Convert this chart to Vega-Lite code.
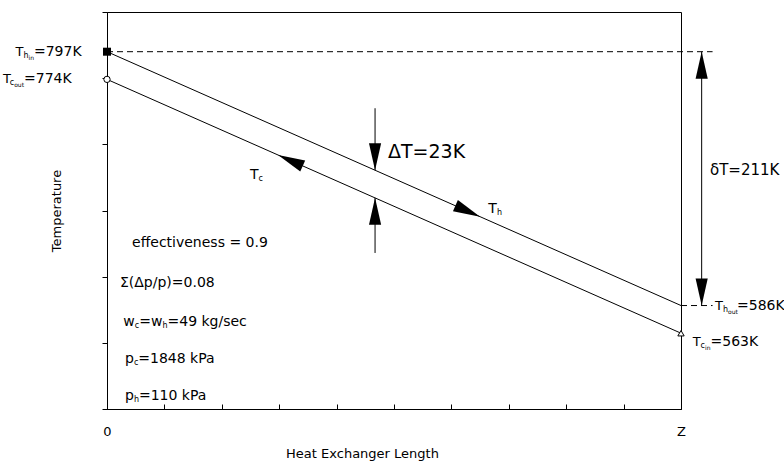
{
  "$schema": "https://vega.github.io/schema/vega-lite/v6.json",
  "width": 574,
  "height": 397,
  "autosize": {"type": "none"},
  "padding": {"left": 107, "top": 12, "right": 103, "bottom": 52},
  "background": "white",
  "config": {
    "view": {"stroke": "#000", "strokeWidth": 1},
    "font": "DejaVu Sans",
    "axis": {"domainColor": "#000", "tickColor": "#000", "labelColor": "#000", "titleColor": "#000", "grid": false, "labelFont": "DejaVu Sans", "titleFont": "DejaVu Sans", "titleFontWeight": "normal"}
  },
  "datasets": {
    "lines": [
      {"s": "h", "x": 0, "T": 797}, {"s": "h", "x": 1, "T": 586},
      {"s": "c", "x": 0, "T": 774}, {"s": "c", "x": 1, "T": 563}
    ],
    "dashes": [
      {"x": 0, "x2": 1.055, "T": 797},
      {"x": 1, "x2": 1.055, "T": 586}
    ],
    "vrules": [
      {"x": 0.467, "T": 750, "T2": 698.5},
      {"x": 0.467, "T": 675.5, "T2": 629.7},
      {"x": 1.036, "T": 797, "T2": 586}
    ],
    "downArrows": [
      {"x": 0.467, "T": 698.5},
      {"x": 1.036, "T": 586}
    ],
    "upArrows": [
      {"x": 0.467, "T": 675.5},
      {"x": 1.036, "T": 797}
    ],
    "hotArrow": [{"x": 0.65, "T": 659.9}],
    "coldArrow": [{"x": 0.298, "T": 711.1}],
    "squares": [{"x": 0, "T": 797}],
    "circles": [{"x": 0, "T": 774}],
    "triangles": [{"x": 1, "T": 563}],
    "endT": [
      {"x": -0.1594, "T": 797, "t": "T"},
      {"x": -0.181, "T": 774, "t": "T"},
      {"x": 1.0592, "T": 586, "t": "T"},
      {"x": 1.0204, "T": 555.7, "t": "T"}
    ],
    "txt": [
      {"x": -0.1272, "T": 797, "t": "=797K"},
      {"x": -0.1446, "T": 774, "t": "=774K"},
      {"x": 1.0976, "T": 586, "t": "=586K"},
      {"x": 1.0514, "T": 555.7, "t": "=563K"},
      {"x": 0.2491, "T": 694.5, "t": "T"},
      {"x": 0.6643, "T": 666.3, "t": "T"},
      {"x": 0.0436, "T": 638.0, "t": "effectiveness = 0.9"},
      {"x": 0.0226, "T": 604.7, "t": "Σ(Δp/p)=0.08"},
      {"x": 0.0284, "T": 572.3, "t": "w"},
      {"x": 0.0561, "T": 572.3, "t": "=w"},
      {"x": 0.1054, "T": 572.3, "t": "=49 kg/sec"},
      {"x": 0.0314, "T": 541.6, "t": "p"},
      {"x": 0.0545, "T": 541.6, "t": "=1848 kPa"},
      {"x": 0.0314, "T": 510.8, "t": "p"},
      {"x": 0.0557, "T": 510.8, "t": "=110 kPa"}
    ],
    "sub": [
      {"x": -0.1456, "T": 797, "t": "h"},
      {"x": -0.1693, "T": 774, "t": "c"},
      {"x": 1.073, "T": 586, "t": "h"},
      {"x": 1.0341, "T": 555.7, "t": "c"},
      {"x": 0.2641, "T": 694.5, "t": "c"},
      {"x": 0.6793, "T": 666.3, "t": "h"},
      {"x": 0.0484, "T": 572.3, "t": "c"},
      {"x": 0.0965, "T": 572.3, "t": "h"},
      {"x": 0.0469, "T": 541.6, "t": "c"},
      {"x": 0.0469, "T": 510.8, "t": "h"}
    ],
    "subsub": [
      {"x": -0.1368, "T": 797, "t": "in"},
      {"x": -0.1617, "T": 774, "t": "out"},
      {"x": 1.0819, "T": 586, "t": "out"},
      {"x": 1.0418, "T": 555.7, "t": "in"}
    ],
    "big": [{"x": 0.4895, "T": 714, "t": "ΔT=23K"}],
    "mid": [{"x": 1.0505, "T": 698.7, "t": "δT=211K"}]
  },
  "layer": [
    {
      "data": {"name": "lines"},
      "mark": {"type": "line", "color": "#000", "strokeWidth": 1},
      "encoding": {
        "x": {"field": "x", "type": "quantitative", "scale": {"domain": [0, 1], "nice": false, "zero": false},
          "axis": {"values": [0, 0.1, 0.2, 0.3, 0.4, 0.5, 0.6, 0.7, 0.8, 0.9, 1], "labelExpr": "datum.value==0?'0':(datum.value==1?'Z':'')", "title": "Heat Exchanger Length", "tickSize": -5, "labelPadding": 21, "labelFontSize": 13, "titleFontSize": 13, "titlePadding": 9, "titleX": 255, "labelFlush": false}},
        "y": {"field": "T", "type": "quantitative", "scale": {"domain": [500, 830], "nice": false, "zero": false},
          "axis": {"values": [500, 555, 610, 665, 720, 775, 830], "labels": false, "title": "Temperature", "tickSize": 5, "titleFontSize": 13, "titlePadding": 38}},
        "detail": {"field": "s"}
      }
    },
    {
      "data": {"name": "dashes"},
      "mark": {"type": "rule", "color": "#000", "strokeWidth": 1, "strokeDash": [6, 4]},
      "encoding": {"x": {"field": "x", "type": "quantitative"}, "x2": {"field": "x2"}, "y": {"field": "T", "type": "quantitative"}}
    },
    {
      "data": {"name": "vrules"},
      "mark": {"type": "rule", "color": "#000", "strokeWidth": 1},
      "encoding": {"x": {"field": "x", "type": "quantitative"}, "y": {"field": "T", "type": "quantitative"}, "y2": {"field": "T2"}}
    },
    {
      "data": {"name": "downArrows"},
      "mark": {"type": "point", "shape": "M0,0L-0.45,-2L0.45,-2Z", "filled": true, "color": "#000", "opacity": 1, "size": 729},
      "encoding": {"x": {"field": "x", "type": "quantitative"}, "y": {"field": "T", "type": "quantitative"}}
    },
    {
      "data": {"name": "upArrows"},
      "mark": {"type": "point", "shape": "M0,0L-0.45,2L0.45,2Z", "filled": true, "color": "#000", "opacity": 1, "size": 729},
      "encoding": {"x": {"field": "x", "type": "quantitative"}, "y": {"field": "T", "type": "quantitative"}}
    },
    {
      "data": {"name": "hotArrow"},
      "mark": {"type": "point", "shape": "M0,0L-2,-0.45L-2,0.45Z", "filled": true, "color": "#000", "opacity": 1, "size": 729, "angle": 24},
      "encoding": {"x": {"field": "x", "type": "quantitative"}, "y": {"field": "T", "type": "quantitative"}}
    },
    {
      "data": {"name": "coldArrow"},
      "mark": {"type": "point", "shape": "M0,0L2,-0.45L2,0.45Z", "filled": true, "color": "#000", "opacity": 1, "size": 729, "angle": 24},
      "encoding": {"x": {"field": "x", "type": "quantitative"}, "y": {"field": "T", "type": "quantitative"}}
    },
    {
      "data": {"name": "squares"},
      "mark": {"type": "point", "shape": "square", "filled": true, "color": "#000", "opacity": 1, "size": 64},
      "encoding": {"x": {"field": "x", "type": "quantitative"}, "y": {"field": "T", "type": "quantitative"}}
    },
    {
      "data": {"name": "circles"},
      "mark": {"type": "point", "shape": "circle", "filled": false, "color": "#000", "fill": "white", "strokeWidth": 1, "opacity": 1, "size": 40},
      "encoding": {"x": {"field": "x", "type": "quantitative"}, "y": {"field": "T", "type": "quantitative"}}
    },
    {
      "data": {"name": "triangles"},
      "mark": {"type": "point", "shape": "triangle-up", "filled": false, "color": "#000", "fill": "white", "strokeWidth": 1, "opacity": 1, "size": 40},
      "encoding": {"x": {"field": "x", "type": "quantitative"}, "y": {"field": "T", "type": "quantitative"}}
    },
    {
      "data": {"name": "endT"},
      "mark": {"type": "text", "align": "left", "baseline": "middle", "fontSize": 13, "color": "#000"},
      "encoding": {"x": {"field": "x", "type": "quantitative"}, "y": {"field": "T", "type": "quantitative"}, "text": {"field": "t"}}
    },
    {
      "data": {"name": "txt"},
      "mark": {"type": "text", "align": "left", "baseline": "middle", "fontSize": 14, "color": "#000"},
      "encoding": {"x": {"field": "x", "type": "quantitative"}, "y": {"field": "T", "type": "quantitative"}, "text": {"field": "t"}}
    },
    {
      "data": {"name": "sub"},
      "mark": {"type": "text", "align": "left", "baseline": "middle", "fontSize": 8, "dy": 4, "color": "#000"},
      "encoding": {"x": {"field": "x", "type": "quantitative"}, "y": {"field": "T", "type": "quantitative"}, "text": {"field": "t"}}
    },
    {
      "data": {"name": "subsub"},
      "mark": {"type": "text", "align": "left", "baseline": "middle", "fontSize": 6, "dy": 6, "color": "#000"},
      "encoding": {"x": {"field": "x", "type": "quantitative"}, "y": {"field": "T", "type": "quantitative"}, "text": {"field": "t"}}
    },
    {
      "data": {"name": "big"},
      "mark": {"type": "text", "align": "left", "baseline": "middle", "fontSize": 19, "color": "#000"},
      "encoding": {"x": {"field": "x", "type": "quantitative"}, "y": {"field": "T", "type": "quantitative"}, "text": {"field": "t"}}
    },
    {
      "data": {"name": "mid"},
      "mark": {"type": "text", "align": "left", "baseline": "middle", "fontSize": 15, "color": "#000"},
      "encoding": {"x": {"field": "x", "type": "quantitative"}, "y": {"field": "T", "type": "quantitative"}, "text": {"field": "t"}}
    }
  ]
}
